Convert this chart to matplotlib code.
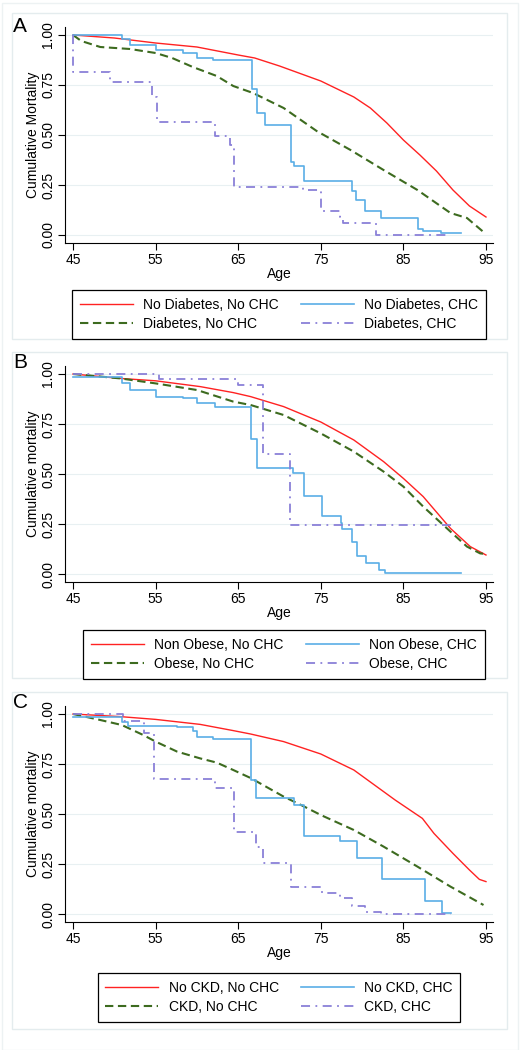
import numpy as np
import matplotlib
matplotlib.use('Agg')
from matplotlib import pyplot as plt
from matplotlib.patches import Rectangle

plt.rcParams['font.family'] = ['Liberation Sans', 'DejaVu Sans']

# Panel A: diabetes
a_red_age = [45, 50, 55, 60, 65, 67, 70, 73, 75, 77, 79, 81, 83, 85, 87, 89, 91, 93, 95]
a_red_val = [1.0, 0.985, 0.96, 0.94, 0.90, 0.885, 0.845, 0.80, 0.77, 0.73, 0.69, 0.635, 0.56,
             0.475, 0.40, 0.32, 0.225, 0.145, 0.09]
a_grn_age = [45, 46, 48.3, 51.9, 55, 57, 59.5, 62.4, 64.4, 66.8, 70.5, 74.5, 78.6, 82.6, 86.7,
             90.7, 92.7, 94.7]
a_grn_val = [1.0, 0.97, 0.94, 0.93, 0.91, 0.885, 0.84, 0.795, 0.745, 0.71, 0.635, 0.52, 0.425,
             0.325, 0.225, 0.11, 0.085, 0.015]
a_blu_age = [45, 50.9, 51.9, 55, 58.3, 60, 62, 66.7, 67.3, 68.2, 71.4, 71.7, 73, 78.8, 79.3,
             80.4, 82.3, 86.8, 87.4, 89.6, 92]
a_blu_val = [1.0, 0.98, 0.95, 0.925, 0.91, 0.885, 0.875, 0.73, 0.61, 0.55, 0.365, 0.345, 0.27,
             0.22, 0.175, 0.12, 0.085, 0.03, 0.02, 0.01, 0.01]
a_pur_age = [45, 45, 49.5, 54.6, 55.2, 62.2, 64, 64.5, 72.9, 75, 77.3, 77.7, 81.7, 90.6]
a_pur_val = [1.0, 0.815, 0.765, 0.69, 0.565, 0.495, 0.45, 0.24, 0.225, 0.12, 0.09, 0.06, 0.0, 0.0]

# Panel B: obesity
b_red_age = [45, 50.7, 55, 60.4, 64.4, 66.5, 70.5, 75, 79, 82.6, 85, 87.4, 90.7, 93.1, 95]
b_red_val = [1.0, 0.978, 0.966, 0.937, 0.907, 0.887, 0.837, 0.76, 0.67, 0.562, 0.478, 0.387,
             0.228, 0.137, 0.095]
b_grn_age = [45, 50.7, 55, 60, 64.4, 66.5, 70.5, 75, 79, 82.6, 85, 87.4, 90.7, 92.7, 94.3, 95]
b_grn_val = [1.0, 0.978, 0.953, 0.92, 0.862, 0.845, 0.795, 0.703, 0.612, 0.512, 0.437, 0.337,
             0.212, 0.137, 0.103, 0.1]
b_blu_age = [45, 50.9, 51.9, 55, 58.3, 60, 62.2, 66.5, 67.3, 71.6, 73, 75.1, 77.4, 77.6, 78.8,
             79.4, 80.5, 82, 82.8, 92]
b_blu_val = [0.983, 0.953, 0.92, 0.887, 0.878, 0.853, 0.837, 0.675, 0.532, 0.505, 0.39, 0.29,
             0.255, 0.223, 0.162, 0.09, 0.057, 0.02, 0.003, 0.003]
b_pur_age = [45, 55.4, 65, 68, 71.3, 91.4]
b_pur_val = [1.0, 0.973, 0.945, 0.60, 0.245, 0.245]

# Panel C: CKD
c_red_age = [45, 50.7, 55, 60.4, 64.4, 66.5, 70.5, 75, 79, 81.5, 84, 87.3, 88.7, 91, 93, 94.2, 95]
c_red_val = [1.0, 0.987, 0.973, 0.948, 0.917, 0.9, 0.862, 0.8, 0.72, 0.645, 0.57, 0.478, 0.403,
             0.303, 0.22, 0.173, 0.162]
c_grn_age = [45, 48.3, 50.9, 53.5, 55, 57.6, 60.4, 62.4, 64.4, 66.5, 70.5, 73, 75, 79, 82.6,
             86.7, 90.7, 94.7]
c_grn_val = [1.0, 0.97, 0.945, 0.895, 0.862, 0.812, 0.778, 0.757, 0.72, 0.68, 0.587, 0.537,
             0.495, 0.42, 0.337, 0.237, 0.137, 0.045]
c_blu_age = [45, 50.9, 51.7, 57.6, 59.5, 60, 62, 66.5, 67.2, 71.7, 73, 77.3, 79.4, 82.4, 87.6,
             89.7, 90.8]
c_blu_val = [0.987, 0.962, 0.942, 0.933, 0.917, 0.887, 0.875, 0.67, 0.58, 0.543, 0.39, 0.363,
             0.28, 0.177, 0.065, 0.007, 0.007]
c_pur_age = [45, 51.1, 53.6, 54.8, 62.2, 64.5, 67.2, 68, 71.4, 75.1, 77.3, 78.8, 80.4, 82.3, 90.8]
c_pur_val = [1.0, 0.965, 0.907, 0.673, 0.628, 0.412, 0.337, 0.253, 0.137, 0.107, 0.08, 0.04,
             0.012, 0.0, 0.0]

panel_letters = ['A', 'B', 'C']
ylabels = ['Cumulative Mortality', 'Cumulative mortality', 'Cumulative mortality']
legend_labels = [
    ['No Diabetes, No CHC', 'Diabetes, No CHC', 'No Diabetes, CHC', 'Diabetes, CHC'],
    ['Non Obese, No CHC', 'Obese, No CHC', 'Non Obese, CHC', 'Obese, CHC'],
    ['No CKD, No CHC', 'CKD, No CHC', 'No CKD, CHC', 'CKD, CHC'],
]
panels = [
    (a_red_age, a_red_val, a_grn_age, a_grn_val, a_blu_age, a_blu_val, a_pur_age, a_pur_val),
    (b_red_age, b_red_val, b_grn_age, b_grn_val, b_blu_age, b_blu_val, b_pur_age, b_pur_val),
    (c_red_age, c_red_val, c_grn_age, c_grn_val, c_blu_age, c_blu_val, c_pur_age, c_pur_val),
]
xticks = [45, 55, 65, 75, 85, 95]
yticks = [0.0, 0.25, 0.5, 0.75, 1.0]

RED = '#FF2222'
GREEN = '#3D6B1F'
BLUE = '#5AAEE6'
PURPLE = '#8A80D8'

W, H = 522, 1050
fig = plt.figure(figsize=(W / 100, H / 100), dpi=100)

# pixel layout: (axes top, axes bottom, panel box top, panel box bottom, letter y, legend top, legend center x)
layout = [
    (27, 243, 13, 339, 26, 283, 279),
    (366, 582, 352, 678, 363, 623, 284),
    (706, 922, 692, 1029, 703, 966, 279),
]

# faint outer frame
fig.patches.append(Rectangle((2 / W, 0), (516 / W), 1 - 3 / H, transform=fig.transFigure,
                             fill=False, edgecolor='#EDF2F3', linewidth=1))

for i, (top, bot, btop, bbot, ly, legtop, legx) in enumerate(layout):
    fig.patches.append(Rectangle((12 / W, 1 - bbot / H), (495 / W), (bbot - btop) / H,
                                 transform=fig.transFigure, fill=False,
                                 edgecolor='#E4ECEE', linewidth=1))
    ax = fig.add_axes([65 / W, 1 - bot / H, 428 / W, (bot - top) / H])
    ra, rv, ga, gv, ba, bv, pa, pv = panels[i]
    l1, = ax.plot(ra, rv, color=RED, lw=1.0)
    l2, = ax.plot(ga, gv, color=GREEN, lw=1.5, dashes=(4, 2.2))
    l3, = ax.step(ba, bv, where='post', color=BLUE, lw=1.2)
    l4, = ax.step(pa, pv, where='post', color=PURPLE, lw=1.3, dashes=(5, 3, 1, 3))
    ax.set_xlim(44.03, 95.85)
    ax.set_ylim(-0.04, 1.04)
    ax.set_xticks(xticks)
    ax.set_yticks(yticks)
    ax.set_yticklabels(['0.00', '0.25', '0.50', '0.75', '1.00'], rotation=90, va='center')
    ax.tick_params(labelsize=10, length=5, width=0.8, pad=2)
    for s in ['top', 'right']:
        ax.spines[s].set_visible(False)
    for s in ['left', 'bottom']:
        ax.spines[s].set_linewidth(0.8)
    ax.grid(axis='y', color='#E8F0F2', lw=0.8)
    ax.set_axisbelow(True)
    ax.set_ylabel(ylabels[i], fontsize=10)
    ax.yaxis.set_label_coords(-0.058, 0.5)
    ax.set_xlabel('Age', fontsize=10, labelpad=0)
    fig.text(13 / W, 1 - ly / H, panel_letters[i], fontsize=15, ha='left', va='center')
    lab = legend_labels[i]
    fig.legend([l1, l2, l3, l4], lab, ncol=2, loc='upper center',
               bbox_to_anchor=(legx / W, 1 - legtop / H), bbox_transform=fig.transFigure,
               fontsize=10, frameon=True, fancybox=False, edgecolor='black',
               framealpha=1, handlelength=3.8, handletextpad=0.75, columnspacing=1.6,
               borderpad=0.55, labelspacing=0.4)
    fig.legends[-1].get_frame().set_linewidth(0.9)

fig.savefig('out.png', dpi=100)
